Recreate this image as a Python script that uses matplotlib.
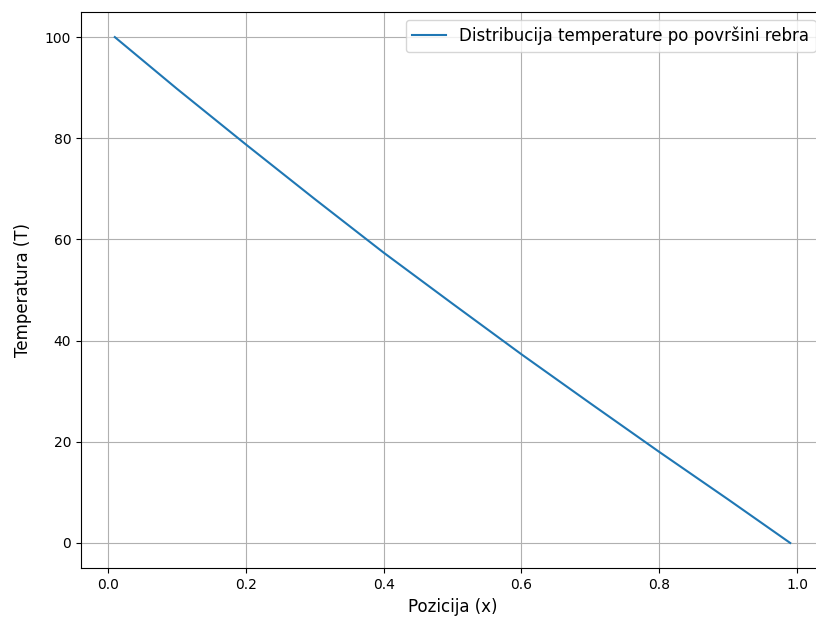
import matplotlib
matplotlib.use("Agg")
import matplotlib.pyplot as plt

x_pos = [0.01, 0.1, 0.2, 0.3, 0.4, 0.5, 0.6, 0.7, 0.8, 0.9, 0.99]
temps = [100.0, 89.8, 78.8, 68.0, 57.4, 47.3, 37.3, 27.6, 18.0, 8.6, 0.0]

fig = plt.figure(figsize=(8.16, 6.21), dpi=100)
ax = fig.add_axes([0.0993, 0.0849, 1.0098 - 0.0993, 0.981 - 0.0849])
ax.plot(x_pos, temps, color="#1f77b4", linewidth=1.5,
        label="Distribucija temperature po površini rebra")
ax.set_xlabel("Pozicija (x)", fontsize=12)
ax.set_ylabel("Temperatura (T)", fontsize=12, labelpad=9)
ax.grid(True)
ax.legend(loc="upper right", fontsize=12)
fig.savefig("out.png", dpi=100)
